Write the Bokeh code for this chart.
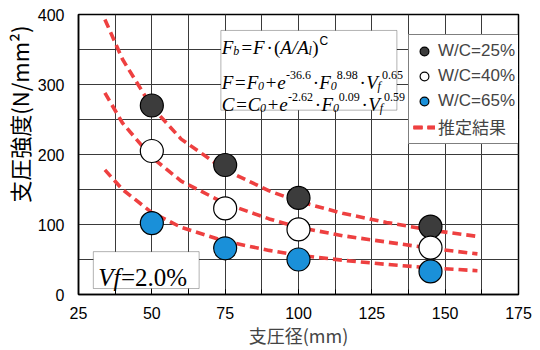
from bokeh.plotting import figure
from bokeh.models import (Range1d, SingleIntervalTicker, Label, BoxAnnotation,
                          Legend, LegendItem, Title)
from bokeh.embed import file_html
from bokeh.resources import INLINE

# ---------------- data ----------------
diameters = [50, 75, 100, 145]
wc25 = [270, 185, 138, 97]
wc40 = [205, 123, 93, 67]
wc65 = [102, 66, 50, 33]

curve_x = [34, 40, 50, 60, 75, 90, 100, 115, 130, 145, 161]
curve25 = [393, 336, 268, 222, 178, 148, 133, 116, 103, 92, 83]
curve40 = [288, 245, 196, 162, 130, 108, 96, 84, 75, 66, 58]
curve65 = [178, 150, 117, 96, 76, 63, 56, 49, 43, 38, 34]

series_labels = ["W/C=25%", "W/C=40%", "W/C=65%"]
curve_label = "推定結果"
x_title = "支圧径(mm)"
y_title = "支圧強度(N/mm²)"
vf_text = ("Vf", "=2.0%")

# ---------------- layout ----------------
W, H = 540, 350
L, R, T, B = 73, 22, 14, 55
X0, X1, Y0, Y1 = 25, 175, 0, 400
FW, FH = W - L - R, H - T - B


def dx(px):
    return X0 + (px - L) * (X1 - X0) / FW


def dy(py):
    return Y0 + (T + FH - py) * (Y1 - Y0) / FH


p = figure(width=W, height=H, output_backend="svg", toolbar_location=None,
           x_range=Range1d(X0, X1), y_range=Range1d(Y0, Y1),
           min_border_left=L, min_border_right=R, min_border_top=T,
           min_border_bottom=B)
p.background_fill_color = "white"
p.border_fill_color = "white"
p.outline_line_color = "black"
p.outline_line_width = 1.5

SANS = "Liberation Sans"
CJK = "Noto Sans CJK JP"
SERIF = "Liberation Serif"

p.xaxis.ticker = SingleIntervalTicker(interval=25, num_minor_ticks=2)
p.yaxis.ticker = SingleIntervalTicker(interval=100, num_minor_ticks=2)
for g in (p.xgrid, p.ygrid):
    g.grid_line_color = "#3a3a3a"
    g.grid_line_width = 1
    g.minor_grid_line_color = "#3a3a3a"
    g.minor_grid_line_width = 1

p.xaxis.axis_label = x_title
p.xaxis.axis_label_text_font = CJK
p.xaxis.axis_label_text_font_size = "18px"
p.xaxis.axis_label_text_font_style = "normal"
p.xaxis.axis_label_standoff = 0
for ax in (p.xaxis, p.yaxis):
    ax.major_label_text_font = SANS
    ax.major_label_text_font_size = "16px"
    ax.major_label_text_color = "black"
    ax.axis_line_color = "black"
    ax.axis_line_width = 1.5
p.xaxis.major_tick_in = 5
p.xaxis.major_tick_out = 0
p.xaxis.minor_tick_in = 5
p.xaxis.minor_tick_out = 0
p.xaxis.major_tick_line_color = "black"
p.xaxis.minor_tick_line_color = "black"
p.xaxis.major_label_standoff = 12
p.yaxis.major_tick_in = 0
p.yaxis.major_tick_out = 0
p.yaxis.minor_tick_line_color = None
p.yaxis.major_label_standoff = 10

# y-axis title, shifted upward like in the reference
p.add_layout(Title(text=y_title, align="right", offset=11, text_font=CJK,
                   text_font_size="22px", text_font_style="normal",
                   text_color="black", standoff=0), "left")

# ---------------- curves ----------------
red = "#ee4040"
lines = []
for cy in (curve25, curve40, curve65):
    lines.append(p.line(curve_x, cy, line_color=red, line_width=3.6,
                        line_dash="9 5"))

# ---------------- points ----------------
colors = ["#3c3c3c", "white", "#1a90d9"]
pts = []
for ys, c in zip((wc25, wc40, wc65), colors):
    pts.append(p.scatter(diameters, ys, size=23, fill_color=c,
                         line_color="black", line_width=1.2))

# ---------------- legend ----------------
items = [LegendItem(label=lab, renderers=[r]) for lab, r in zip(series_labels, pts)]
items.append(LegendItem(label=curve_label, renderers=lines))
legend = Legend(items=items, location=(330, 150), label_text_font=f"{SANS}, {CJK}",
                label_text_font_size="17px", label_height=24, glyph_height=24,
                glyph_width=22, label_standoff=3, spacing=1, padding=4,
                border_line_color="black", border_line_width=1,
                background_fill_color="white", background_fill_alpha=1.0,
                margin=0)
p.add_layout(legend)

# ---------------- formula box ----------------
p.add_layout(BoxAnnotation(left=dx(217), right=dx(395), bottom=dy(110), top=dy(30),
                           fill_color="white", fill_alpha=1.0,
                           line_color="black", line_width=1, level="annotation"))

ITAL = {'F': 611, 'b': 500, '=': 675, 'A': 611, '/': 278, 'l': 278, 'e': 444,
        'V': 611, 'f': 278, 'C': 667, '.': 250, '-': 333, '+': 675,
        '(': 333, ')': 333, ' ': 250}
ROMAN = {'·': 250, '(': 333, ')': 333, ' ': 250, '-': 333, '.': 250, '=': 564,
         '%': 833}
SANSW = {'C': 722}


def width(text, size, italic, sans=False):
    tab = SANSW if sans else (ITAL if italic else ROMAN)
    return sum(tab.get(ch, 500) for ch in text) * size / 1000.0


BASE, SCRIPT = 19, 12
# (text, kind, italic, extra gap before in px)
formula_lines = [
    (47, [("F", "b", True, 0), ("b", "sub", True, 0), ("=F", "b", True, 1),
          ("·", "b", False, 2), ("(", "b", False, 3), ("A/A", "b", True, 0),
          ("l", "sub", True, 0), (")", "b", False, 0.5), ("C", "supsans", False, 1)]),
    (82, [("F", "b", True, 0), ("=F", "b", True, 0.5), ("0", "sub", True, 0),
          ("+e", "b", True, 0.5), ("-36.6", "sup", False, 0.5),
          ("·", "b", False, 2), ("F", "b", True, 2), ("0", "sub", True, 0),
          ("8.98", "sup", False, 0), ("·", "b", False, 2),
          ("V", "b", True, 2), ("f", "sub", True, 0), ("0.65", "sup", False, 1)]),
    (104, [("C", "b", True, 0), ("=C", "b", True, 0.5), ("0", "sub", True, 0),
           ("+e", "b", True, 0.5), ("-2.62", "sup", False, 0.5),
           ("·", "b", False, 2), ("F", "b", True, 2), ("0", "sub", True, 0),
           ("0.09", "sup", False, 0), ("·", "b", False, 2),
           ("V", "b", True, 2), ("f", "sub", True, 0), ("0.59", "sup", False, 1)]),
]
for base_y, pieces in formula_lines:
    x = 218.0
    for text, kind, italic, gap in pieces:
        x += gap
        sans = False
        if kind == "b":
            size, off, font = BASE, 0, SERIF
        elif kind == "sub":
            size, off, font = SCRIPT, 4, SERIF
        elif kind == "sup":
            size, off, font = SCRIPT, -7, SERIF
        else:
            size, off, font, sans = SCRIPT, -6, SANS, True
        style = "italic" if italic else "normal"
        p.add_layout(Label(x=dx(x), y=dy(base_y + off), text=text,
                           text_font=font, text_font_size=f"{size}px",
                           text_font_style=style, text_color="black",
                           text_align="left", text_baseline="alphabetic"))
        x += width(text, size, italic, sans)

# ---------------- Vf box ----------------
p.add_layout(BoxAnnotation(left=dx(88), right=dx(195), bottom=dy(289), top=dy(252),
                           fill_color="white", fill_alpha=1.0,
                           line_color="black", line_width=1, level="annotation"))
p.add_layout(Label(x=dx(93), y=dy(278), text=vf_text[0], text_font=SERIF,
                   text_font_size="25px", text_font_style="italic",
                   text_color="black", text_baseline="alphabetic"))
p.add_layout(Label(x=dx(116), y=dy(278), text=vf_text[1], text_font=SERIF,
                   text_font_size="25px", text_font_style="normal",
                   text_color="black", text_baseline="alphabetic"))

open("out.html", "w").write(file_html(p, INLINE))
